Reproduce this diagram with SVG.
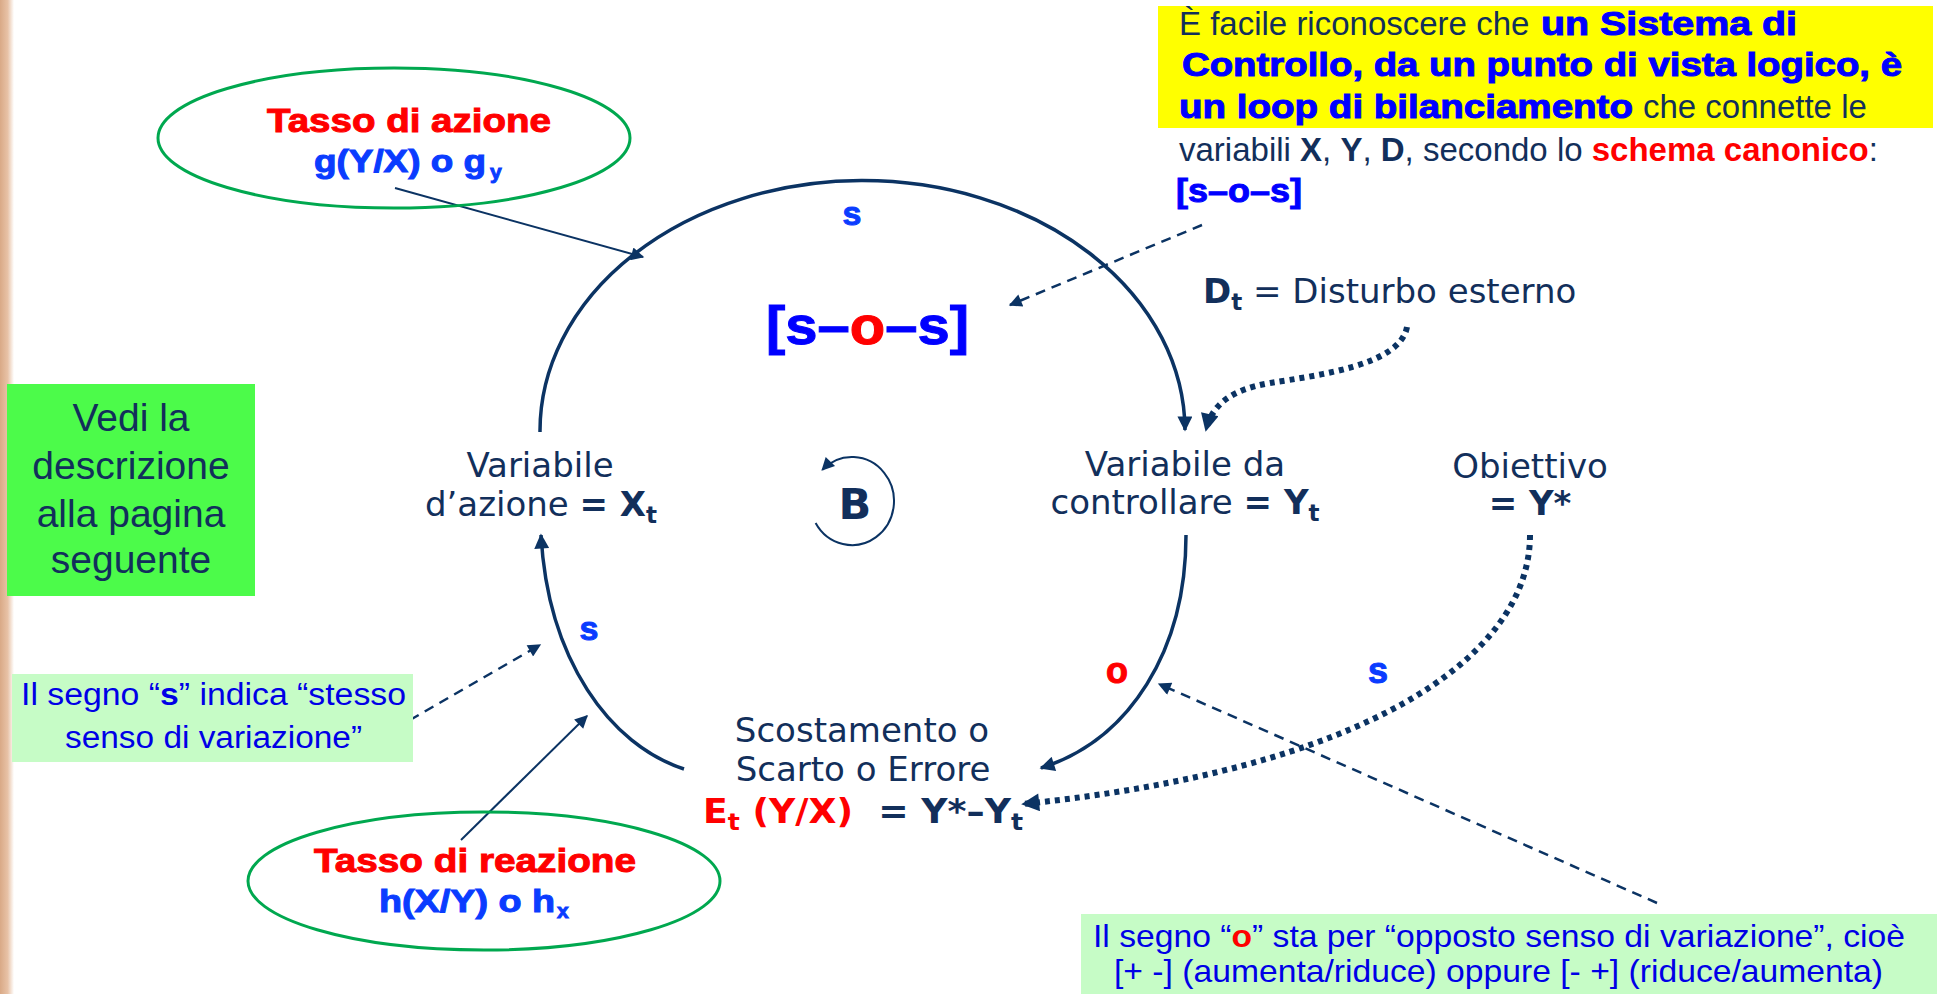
<svg xmlns="http://www.w3.org/2000/svg" width="1937" height="994" viewBox="0 0 1937 994">
<style>
.a{font-family:"Liberation Sans",Arial,sans-serif}
.v{font-family:"DejaVu Sans",Verdana,sans-serif}
.navy{fill:#122f5b}
.blue{fill:#0000ff}
.lblue{fill:#0a3cff}
.red{fill:#ff0000}
.b{font-weight:bold}
.hb{font-weight:bold;fill:#0000ff;stroke:#0000ff;stroke-width:1}
.hl{font-weight:bold;fill:#0a3cff;stroke:#0a3cff;stroke-width:1}
.hr{font-weight:bold;fill:#ff0000;stroke:#ff0000;stroke-width:1}
.nt{fill:#0000e6}
.conn{fill:none;stroke:#0b3363}
.loop{stroke-width:3.5}
.thin{stroke-width:2}
.dash{stroke-width:2.5;stroke-dasharray:10 7}
.dot{stroke-width:6;stroke-dasharray:5 5}
.ell{fill:none;stroke:#00a84f;stroke-width:3}
</style>
<defs>
<linearGradient id="strip" x1="0" y1="0" x2="1" y2="0">
<stop offset="0" stop-color="#d9a986"/>
<stop offset="0.55" stop-color="#e8c2a6"/>
<stop offset="1" stop-color="#ffffff"/>
</linearGradient>
<marker id="ah" viewBox="0 0 10 10" refX="9" refY="5" markerWidth="18" markerHeight="15" markerUnits="userSpaceOnUse" orient="auto"><path d="M0,0 L10,5 L0,10 z" fill="#0b3363"/></marker>
<marker id="ahs" viewBox="0 0 10 10" refX="9" refY="5" markerWidth="16" markerHeight="13" markerUnits="userSpaceOnUse" orient="auto"><path d="M0,0 L10,5 L0,10 z" fill="#0b3363"/></marker>
<marker id="ahd" viewBox="0 0 10 10" refX="9" refY="5" markerWidth="20" markerHeight="18" markerUnits="userSpaceOnUse" orient="auto"><path d="M0,0 L10,5 L0,10 z" fill="#0b3363"/></marker>
</defs>
<rect x="0" y="0" width="1937" height="994" fill="#ffffff"/>
<rect x="0" y="0" width="14" height="994" fill="url(#strip)"/>

<g id="connectors">
<path class="conn loop" d="M 540 432 A 322 250 0 0 1 1185 430" marker-end="url(#ah)"/>
<path class="conn loop" d="M 684 769 C 610 745, 548 660, 541 535" marker-end="url(#ah)"/>
<path class="conn loop" d="M 1186 535 C 1186 650, 1130 740, 1041 768" marker-end="url(#ah)"/>
<path class="conn thin" d="M 395 188 L 643 257" marker-end="url(#ahs)"/>
<path class="conn thin" d="M 461 840 L 587 716" marker-end="url(#ahs)"/>
<path class="conn dash" d="M 1202 225 L 1010 305" marker-end="url(#ahs)"/>
<path class="conn dash" d="M 410 720 L 540 645" marker-end="url(#ahs)"/>
<path class="conn dash" d="M 1657 903 L 1159 684" marker-end="url(#ahs)"/>
<path class="conn dot" d="M 1407 327 C 1400 365, 1320 375, 1270 383 C 1230 390, 1212 405, 1206 430" marker-end="url(#ahd)"/>
<path class="conn dot" d="M 1530 535 C 1530 660, 1360 770, 1023 804" marker-end="url(#ahd)"/>
<path class="conn thin" d="M 815.6 523 A 42 44 0 1 0 822.3 469.9" marker-end="url(#ahs)"/>
</g>

<g id="note-top">
<rect x="1158" y="6" width="775" height="122" fill="#ffff00"/>
<text class="a navy" x="1179" y="35" font-size="33">È facile riconoscere che</text>
<text class="a hb" x="1541" y="35" font-size="33" textLength="256" lengthAdjust="spacingAndGlyphs">un Sistema di</text>
<text class="a hb" x="1182" y="76" font-size="33" textLength="720" lengthAdjust="spacingAndGlyphs">Controllo, da un punto di vista logico, è</text>
<text class="a hb" x="1179" y="118" font-size="33" textLength="454" lengthAdjust="spacingAndGlyphs">un loop di bilanciamento</text>
<text class="a navy" x="1643" y="118" font-size="33">che connette le</text>
<text class="a navy" x="1179" y="161" font-size="33">variabili <tspan class="b">X</tspan>, <tspan class="b">Y</tspan>, <tspan class="b">D</tspan>, secondo lo <tspan class="b red">schema canonico</tspan>:</text>
<text class="a hb" x="1176" y="202" font-size="33" textLength="126" lengthAdjust="spacingAndGlyphs">[s–o–s]</text>
</g>

<g id="ellipse-azione">
<ellipse class="ell" cx="394" cy="138" rx="236" ry="70"/>
<text class="a hr" x="409" y="132" font-size="34" text-anchor="middle" textLength="284" lengthAdjust="spacingAndGlyphs">Tasso di azione</text>
<text class="a hl" x="314" y="172" font-size="31" textLength="172" lengthAdjust="spacingAndGlyphs">g(Y/X) o g</text>
<text class="a hl" x="490" y="179" font-size="21">y</text>
</g>

<g id="ellipse-reazione">
<ellipse class="ell" cx="484" cy="881" rx="236" ry="69"/>
<text class="a hr" x="475" y="872" font-size="34" text-anchor="middle" textLength="322" lengthAdjust="spacingAndGlyphs">Tasso di reazione</text>
<text class="a hl" x="379" y="912" font-size="31" textLength="176" lengthAdjust="spacingAndGlyphs">h(X/Y) o h</text>
<text class="a hl" x="557" y="918" font-size="21">x</text>
</g>

<g id="note-vedi">
<rect x="7" y="384" width="248" height="212" fill="#4cfb4a"/>
<g class="a navy" font-size="39" text-anchor="middle">
<text x="131" y="431">Vedi la</text>
<text x="131" y="479">descrizione</text>
<text x="131" y="527">alla pagina</text>
<text x="131" y="573">seguente</text>
</g>
</g>

<g id="note-s">
<rect x="12" y="674" width="401" height="88" fill="#c6fcc6"/>
<text class="a nt" x="21" y="705" font-size="31" textLength="385" lengthAdjust="spacingAndGlyphs">Il segno “<tspan class="b">s</tspan>” indica “stesso</text>
<text class="a nt" x="65" y="748" font-size="31" textLength="297" lengthAdjust="spacingAndGlyphs">senso di variazione”</text>
</g>

<g id="note-o">
<rect x="1081" y="914" width="856" height="80" fill="#c6fcc6"/>
<text class="a nt" x="1093" y="947" font-size="32" textLength="812" lengthAdjust="spacingAndGlyphs">Il segno “<tspan class="b red">o</tspan>” sta per “opposto senso di variazione”, cioè</text>
<text class="a nt" x="1114" y="982" font-size="32" textLength="769" lengthAdjust="spacingAndGlyphs">[+ -] (aumenta/riduce) oppure [- +] (riduce/aumenta)</text>
</g>

<g id="node-x">
<text class="v navy" x="540" y="477" font-size="34" text-anchor="middle">Variabile</text>
<text class="v navy" x="541" y="516" font-size="34" text-anchor="middle">d’azione <tspan class="b">= X</tspan><tspan class="b" font-size="23" dy="7">t</tspan></text>
</g>

<g id="node-y">
<text class="v navy" x="1185" y="476" font-size="34" text-anchor="middle">Variabile da</text>
<text class="v navy" x="1185" y="514" font-size="34" text-anchor="middle">controllare <tspan class="b">= Y</tspan><tspan class="b" font-size="23" dy="7">t</tspan></text>
</g>

<g id="node-obiettivo">
<text class="v navy" x="1530" y="478" font-size="34" text-anchor="middle">Obiettivo</text>
<text class="v navy b" x="1530" y="515" font-size="34" text-anchor="middle">= Y*</text>
</g>

<g id="node-d">
<text class="v navy" x="1203" y="303" font-size="34"><tspan class="b">D</tspan><tspan class="b" font-size="23" dy="7">t</tspan><tspan dy="-7"> = Disturbo esterno</tspan></text>
</g>

<g id="node-e">
<text class="v navy" x="862" y="742" font-size="34" text-anchor="middle">Scostamento o</text>
<text class="v navy" x="863" y="781" font-size="34" text-anchor="middle">Scarto o Errore</text>
<text class="v b" x="703" y="823" font-size="33" textLength="320" lengthAdjust="spacingAndGlyphs" xml:space="preserve"><tspan class="red">E</tspan><tspan class="red" font-size="23" dy="7">t</tspan><tspan class="red" dy="-7"> (Y/X)</tspan><tspan class="navy">  = Y*–Y</tspan><tspan class="navy" font-size="23" dy="7">t</tspan></text>
</g>

<g id="loop-b">
<text class="v navy b" x="855" y="519" font-size="43" text-anchor="middle">B</text>
</g>

<g id="labels">
<text class="a hl" x="852" y="225" font-size="34" text-anchor="middle">s</text>
<text class="a hb" x="766" y="344" font-size="54" textLength="203" lengthAdjust="spacingAndGlyphs">[s–<tspan class="hr">o</tspan>–s]</text>
<text class="a hl" x="589" y="640" font-size="34" text-anchor="middle">s</text>
<text class="a hr" x="1117" y="683" font-size="36" text-anchor="middle">o</text>
<text class="a hl" x="1378" y="683" font-size="36" text-anchor="middle">s</text>
</g>
</svg>
